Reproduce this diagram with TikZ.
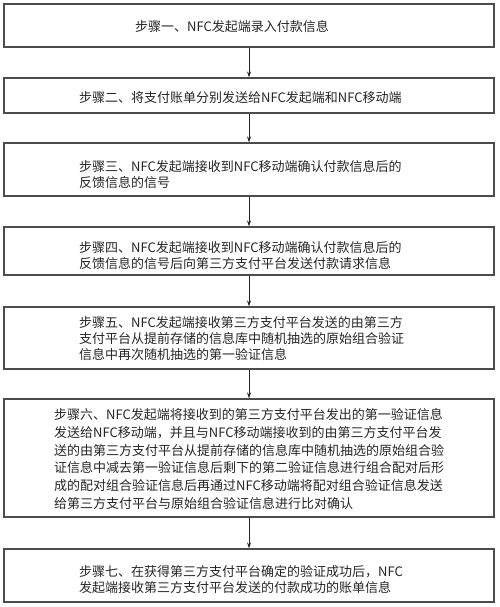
\documentclass[tikz,border=0pt]{standalone}
\usepackage{fontspec}
\newfontfamily\cjkfont{Noto Sans CJK SC}
\usetikzlibrary{arrows.meta}
\tikzset{
  stepbox/.style={draw=black!70, line width=1.1pt, rectangle, minimum width=490pt, inner sep=0pt, fill=white},
  steptext/.style={anchor=west, inner sep=0pt, align=left, text=black!85, font=\cjkfont\fontsize{13}{16}\selectfont},
  arr/.style={draw=black!85, line width=0.8pt, -{Stealth[length=6pt,width=4pt]}}
}
\begin{document}
\begin{tikzpicture}[x=1pt,y=-1pt]
\useasboundingbox[fill=white] (0,0) rectangle (500,607);
\node[stepbox, minimum height=43pt] (b1) at (249,25.5) {};
\node[stepbox, minimum height=35pt] (b2) at (249,95.5) {};
\node[stepbox, minimum height=53pt] (b3) at (249,169.5) {};
\node[stepbox, minimum height=48pt] (b4) at (249,251) {};
\node[stepbox, minimum height=62pt] (b5) at (249,338) {};
\node[stepbox, minimum height=118pt] (b6) at (249,458) {};
\node[stepbox, minimum height=53pt] (b7) at (249,575.5) {};

\node[steptext] (t1) at (135,27) {步骤一、NFC发起端录入付款信息};
\node[steptext] (t2) at (79,98) {步骤二、将支付账单分别发送给NFC发起端和NFC移动端};
\node[steptext] (t3) at (79,175) {步骤三、NFC发起端接收到NFC移动端确认付款信息后的\\反馈信息的信号};
\node[steptext] (t4) at (79,256) {步骤四、NFC发起端接收到NFC移动端确认付款信息后的\\反馈信息的信号后向第三方支付平台发送付款请求信息};
\node[steptext] (t5) at (79,339) {步骤五、NFC发起端接收第三方支付平台发送的由第三方\\支付平台从提前存储的信息库中随机抽选的原始组合验证\\信息中再次随机抽选的第一验证信息};
\node[steptext, font=\cjkfont\fontsize{13}{17.8}\selectfont] (t6) at (54,459) {步骤六、NFC发起端将接收到的第三方支付平台发出的第一验证信息\\发送给NFC移动端，并且与NFC移动端接收到的由第三方支付平台发\\送的由第三方支付平台从提前存储的信息库中随机抽选的原始组合验\\证信息中减去第一验证信息后剩下的第二验证信息进行组合配对后形\\成的配对组合验证信息后再通过NFC移动端将配对组合验证信息发送\\给第三方支付平台与原始组合验证信息进行比对确认};
\node[steptext] (t7) at (79,580) {步骤七、在获得第三方支付平台确定的验证成功后，NFC\\发起端接收第三方支付平台发送的付款成功的账单信息};

\draw[arr] (b1.south) -- (b2.north);
\draw[arr] (b2.south) -- (b3.north);
\draw[arr] (b3.south) -- (b4.north);
\draw[arr] (b4.south) -- (b5.north);
\draw[arr] (b5.south) -- (b6.north);
\draw[arr] (b6.south) -- (b7.north);
\end{tikzpicture}
\end{document}
